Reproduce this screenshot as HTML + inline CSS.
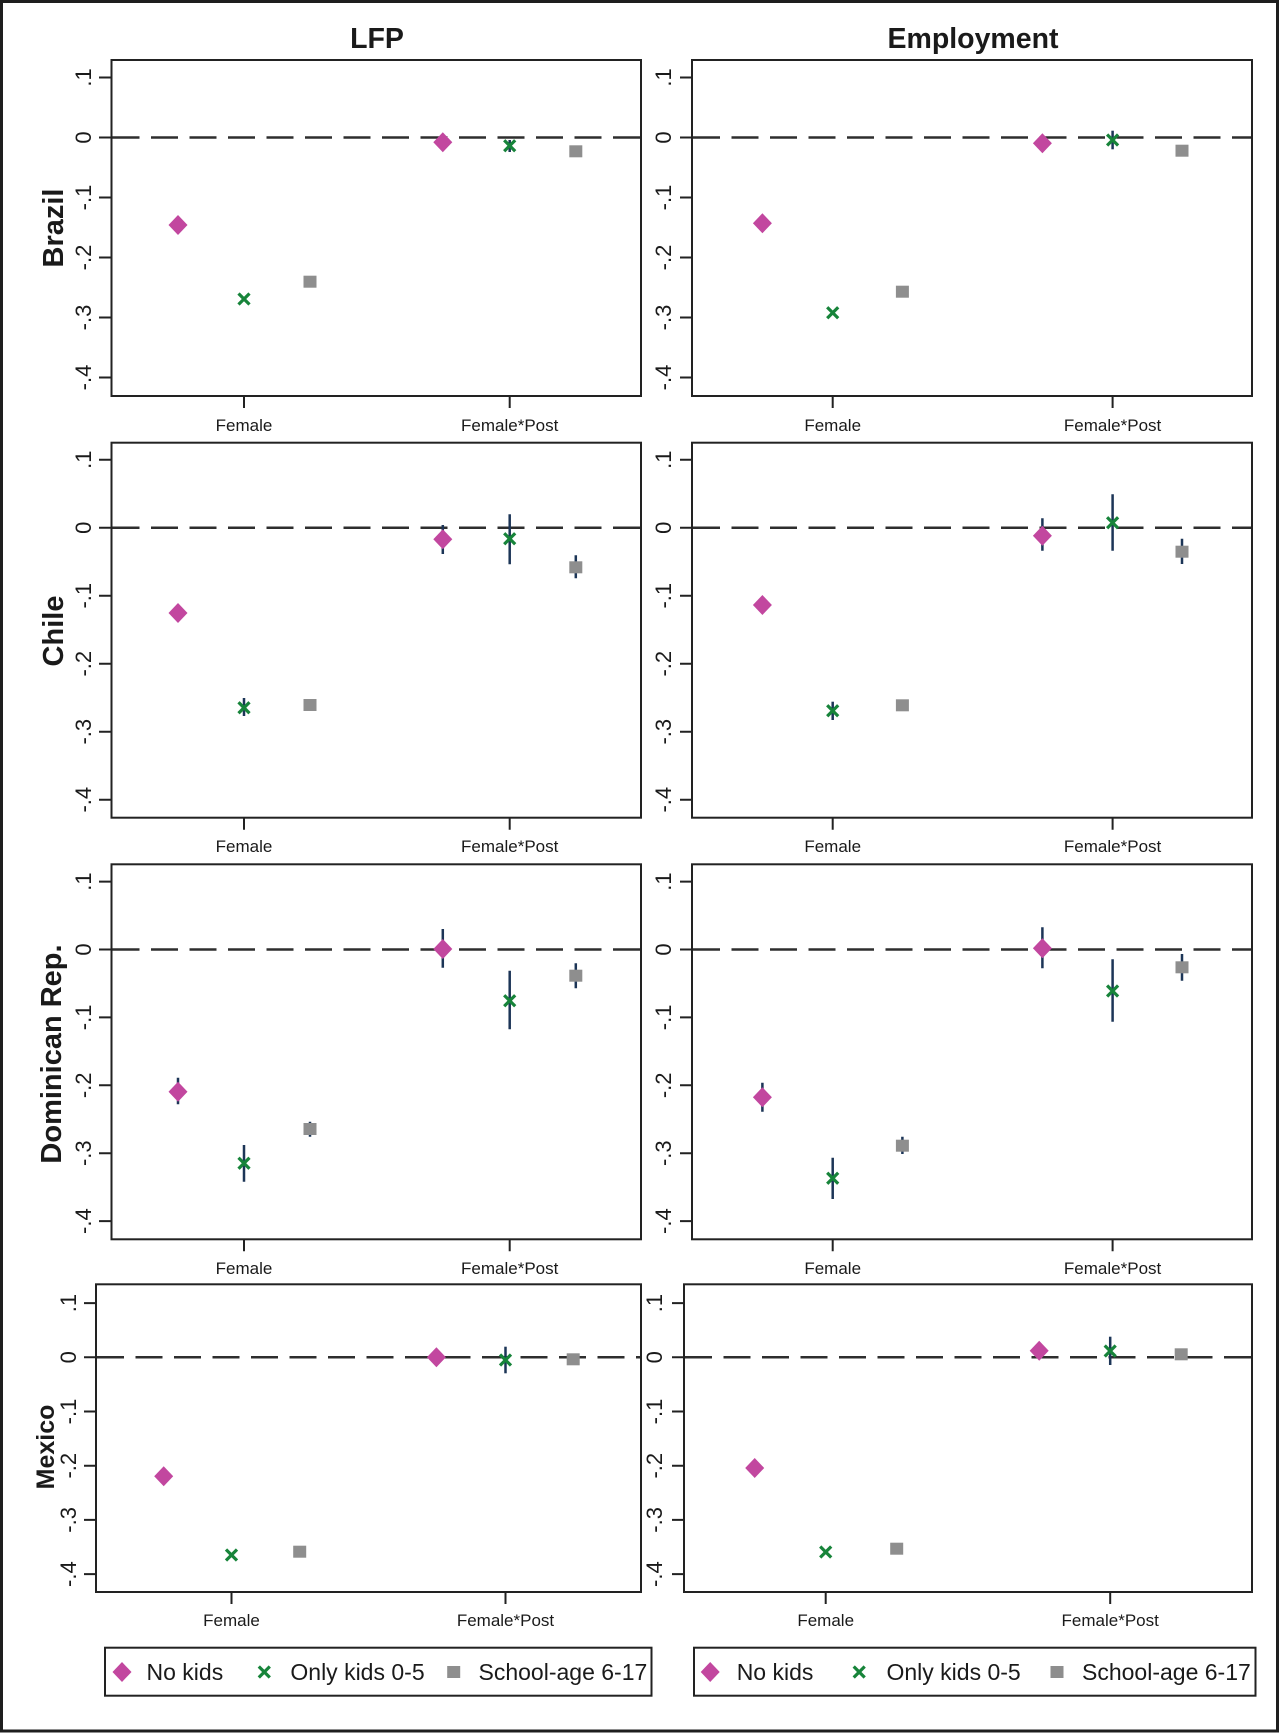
<!DOCTYPE html>
<html><head><meta charset="utf-8"><style>
html,body{margin:0;padding:0;background:#fff;}
svg{display:block;}
text{font-family:"Liberation Sans",Arial,sans-serif;fill:#1a1a1a;}
</style></head><body>
<svg width="1280" height="1733" viewBox="0 0 1280 1733" xmlns="http://www.w3.org/2000/svg">
<defs>
<path id="dia" d="M0,-10 L9.5,0 L0,10 L-9.5,0Z" fill="#c2479f"/>
<path id="xx" d="M-5.5,-5.5 L5.5,5.5 M5.5,-5.5 L-5.5,5.5" stroke="#17843a" stroke-width="3.2" fill="none"/>
<rect id="sq" x="-6.5" y="-6" width="13" height="12" fill="#8e8e8e"/>
</defs>
<rect x="0" y="0" width="1280" height="1733" fill="#fff"/>
<rect x="1.5" y="1.5" width="1276" height="1729.5" fill="none" stroke="#1e1e1e" stroke-width="3"/>

<!-- Titles -->
<text x="377" y="48" font-size="28.5" font-weight="bold" text-anchor="middle">LFP</text>
<text x="973" y="48" font-size="28.5" font-weight="bold" text-anchor="middle">Employment</text>

<!-- Country labels -->
<text transform="translate(63,228) rotate(-90)" font-size="29" font-weight="bold" text-anchor="middle">Brazil</text>
<text transform="translate(63,631) rotate(-90)" font-size="29" font-weight="bold" text-anchor="middle">Chile</text>
<text transform="translate(61,1054) rotate(-90)" font-size="29" font-weight="bold" text-anchor="middle">Dominican Rep.</text>
<text transform="translate(54,1447) rotate(-90)" font-size="25" font-weight="bold" text-anchor="middle">Mexico</text>

<g stroke="#222" stroke-width="2" fill="none">
<rect x="111.5" y="60" width="529.5" height="336"/>
<rect x="692" y="60" width="560" height="336"/>
<rect x="111.5" y="442.7" width="529.5" height="375"/>
<rect x="692" y="442.7" width="560" height="375"/>
<rect x="111.5" y="864.3" width="529.5" height="375"/>
<rect x="692" y="864.3" width="560" height="375"/>
<rect x="96" y="1284.3" width="545" height="307.7"/>
<rect x="684" y="1284.3" width="568" height="307.7"/>
<path d="M99,77.5H111.5M99,137.5H111.5M99,197.5H111.5M99,257.5H111.5M99,317.5H111.5M99,377.5H111.5"/>
<path d="M680,77.5H692M680,137.5H692M680,197.5H692M680,257.5H692M680,317.5H692M680,377.5H692"/>
<path d="M99,459.7H111.5M99,527.7H111.5M99,595.7H111.5M99,663.7H111.5M99,731.7H111.5M99,799.7H111.5"/>
<path d="M680,459.7H692M680,527.7H692M680,595.7H692M680,663.7H692M680,731.7H692M680,799.7H692"/>
<path d="M99,881.6H111.5M99,949.5H111.5M99,1017.4H111.5M99,1085.3H111.5M99,1153.2H111.5M99,1221.1H111.5"/>
<path d="M680,881.6H692M680,949.5H692M680,1017.4H692M680,1085.3H692M680,1153.2H692M680,1221.1H692"/>
<path d="M84,1303.1H96M84,1357.3H96M84,1411.5H96M84,1465.7H96M84,1519.9H96M84,1574.1H96"/>
<path d="M672,1303.1H684M672,1357.3H684M672,1411.5H684M672,1465.7H684M672,1519.9H684M672,1574.1H684"/>
<path d="M244,396V408M509.7,396V408M832.7,396V408M1112.6,396V408"/>
<path d="M244,817.7V829.7M509.7,817.7V829.7M832.7,817.7V829.7M1112.6,817.7V829.7"/>
<path d="M244,1239.3V1251.3M509.7,1239.3V1251.3M832.7,1239.3V1251.3M1112.6,1239.3V1251.3"/>
<path d="M231.5,1592V1604M505.5,1592V1604M825.7,1592V1604M1110.2,1592V1604"/>
<rect x="105" y="1647.7" width="546.5" height="48"/>
<rect x="694" y="1647.7" width="561.5" height="48"/>
</g>

<g stroke="#2e2e2e" stroke-width="2.5" stroke-dasharray="27 11.5" fill="none">
<path d="M112.5,137.5H640"/>
<path d="M693,137.5H1251"/>
<path d="M112.5,527.7H640"/>
<path d="M693,527.7H1251"/>
<path d="M112.5,949.5H640"/>
<path d="M693,949.5H1251"/>
<path d="M97,1357.3H640"/>
<path d="M685,1357.3H1251"/>
</g>

<g font-size="22" text-anchor="middle">
<text transform="translate(91,77.5) rotate(-90)">.1</text>
<text transform="translate(91,137.5) rotate(-90)">0</text>
<text transform="translate(91,197.5) rotate(-90)">-.1</text>
<text transform="translate(91,257.5) rotate(-90)">-.2</text>
<text transform="translate(91,317.5) rotate(-90)">-.3</text>
<text transform="translate(91,377.5) rotate(-90)">-.4</text>
<text transform="translate(671,77.5) rotate(-90)">.1</text>
<text transform="translate(671,137.5) rotate(-90)">0</text>
<text transform="translate(671,197.5) rotate(-90)">-.1</text>
<text transform="translate(671,257.5) rotate(-90)">-.2</text>
<text transform="translate(671,317.5) rotate(-90)">-.3</text>
<text transform="translate(671,377.5) rotate(-90)">-.4</text>

<text transform="translate(91,459.7) rotate(-90)">.1</text>
<text transform="translate(91,527.7) rotate(-90)">0</text>
<text transform="translate(91,595.7) rotate(-90)">-.1</text>
<text transform="translate(91,663.7) rotate(-90)">-.2</text>
<text transform="translate(91,731.7) rotate(-90)">-.3</text>
<text transform="translate(91,799.7) rotate(-90)">-.4</text>
<text transform="translate(671,459.7) rotate(-90)">.1</text>
<text transform="translate(671,527.7) rotate(-90)">0</text>
<text transform="translate(671,595.7) rotate(-90)">-.1</text>
<text transform="translate(671,663.7) rotate(-90)">-.2</text>
<text transform="translate(671,731.7) rotate(-90)">-.3</text>
<text transform="translate(671,799.7) rotate(-90)">-.4</text>

<text transform="translate(91,881.6) rotate(-90)">.1</text>
<text transform="translate(91,949.5) rotate(-90)">0</text>
<text transform="translate(91,1017.4) rotate(-90)">-.1</text>
<text transform="translate(91,1085.3) rotate(-90)">-.2</text>
<text transform="translate(91,1153.2) rotate(-90)">-.3</text>
<text transform="translate(91,1221.1) rotate(-90)">-.4</text>
<text transform="translate(671,881.6) rotate(-90)">.1</text>
<text transform="translate(671,949.5) rotate(-90)">0</text>
<text transform="translate(671,1017.4) rotate(-90)">-.1</text>
<text transform="translate(671,1085.3) rotate(-90)">-.2</text>
<text transform="translate(671,1153.2) rotate(-90)">-.3</text>
<text transform="translate(671,1221.1) rotate(-90)">-.4</text>

<text transform="translate(76,1303.1) rotate(-90)">.1</text>
<text transform="translate(76,1357.3) rotate(-90)">0</text>
<text transform="translate(76,1411.5) rotate(-90)">-.1</text>
<text transform="translate(76,1465.7) rotate(-90)">-.2</text>
<text transform="translate(76,1519.9) rotate(-90)">-.3</text>
<text transform="translate(76,1574.1) rotate(-90)">-.4</text>
<text transform="translate(662,1303.1) rotate(-90)">.1</text>
<text transform="translate(662,1357.3) rotate(-90)">0</text>
<text transform="translate(662,1411.5) rotate(-90)">-.1</text>
<text transform="translate(662,1465.7) rotate(-90)">-.2</text>
<text transform="translate(662,1519.9) rotate(-90)">-.3</text>
<text transform="translate(662,1574.1) rotate(-90)">-.4</text>
</g>

<g font-size="17" text-anchor="middle" style="fill:#2a2a2a">
<text x="244" y="431">Female</text>
<text x="509.7" y="431">Female*Post</text>
<text x="832.7" y="431">Female</text>
<text x="1112.6" y="431">Female*Post</text>
<text x="244" y="852">Female</text>
<text x="509.7" y="852">Female*Post</text>
<text x="832.7" y="852">Female</text>
<text x="1112.6" y="852">Female*Post</text>
<text x="244" y="1274">Female</text>
<text x="509.7" y="1274">Female*Post</text>
<text x="832.7" y="1274">Female</text>
<text x="1112.6" y="1274">Female*Post</text>
<text x="231.5" y="1626">Female</text>
<text x="505.5" y="1626">Female*Post</text>
<text x="825.7" y="1626">Female</text>
<text x="1110.2" y="1626">Female*Post</text>
</g>

<g stroke="#1c3557" stroke-width="2.5" fill="none">
<path d="M509.7,140V152"/>
<path d="M1112.6,130.7V149.3"/>
<path d="M244,698V716"/>
<path d="M442.8,525V554M509.7,514.3V564.3M575.8,555.3V578.3"/>
<path d="M832.7,701.7V720"/>
<path d="M1042.4,518.3V550.7M1112.6,494.3V550.7M1182,538.7V564"/>
<path d="M178,1077.7V1104.3M244,1145V1181.7M310,1121.7V1136.7"/>
<path d="M442.8,929V967.7M509.7,970.7V1029.3M575.8,963.3V988.3"/>
<path d="M762.4,1082.7V1111.7M832.7,1157.7V1199M902.4,1136.7V1154"/>
<path d="M1042.4,927.3V968.3M1112.6,959.3V1021.7M1182,954V980.7"/>
<path d="M505.5,1346.7V1373.3"/>
<path d="M1110.2,1336.7V1365"/>
</g>

<use href="#dia" x="178" y="225"/><use href="#xx" x="244" y="299"/><use href="#sq" x="310" y="281.7"/>
<use href="#dia" x="442.8" y="142.3"/><use href="#xx" x="509.7" y="145.7"/><use href="#sq" x="575.8" y="151.3"/>
<use href="#dia" x="762.4" y="223.3"/><use href="#xx" x="832.7" y="312.7"/><use href="#sq" x="902.4" y="291.7"/>
<use href="#dia" x="1042.4" y="143.3"/><use href="#xx" x="1112.6" y="140"/><use href="#sq" x="1182" y="150.7"/>
<use href="#dia" x="178" y="613"/><use href="#xx" x="244" y="707.7"/><use href="#sq" x="310" y="705"/>
<use href="#dia" x="442.8" y="539.3"/><use href="#xx" x="509.7" y="538.7"/><use href="#sq" x="575.8" y="567.3"/>
<use href="#dia" x="762.4" y="605"/><use href="#xx" x="832.7" y="710.7"/><use href="#sq" x="902.4" y="705.3"/>
<use href="#dia" x="1042.4" y="535.7"/><use href="#xx" x="1112.6" y="522.7"/><use href="#sq" x="1182" y="551.7"/>
<use href="#dia" x="178" y="1091.7"/><use href="#xx" x="244" y="1163.3"/><use href="#sq" x="310" y="1129"/>
<use href="#dia" x="442.8" y="949"/><use href="#xx" x="509.7" y="1000.7"/><use href="#sq" x="575.8" y="975.7"/>
<use href="#dia" x="762.4" y="1097.3"/><use href="#xx" x="832.7" y="1178.3"/><use href="#sq" x="902.4" y="1145.7"/>
<use href="#dia" x="1042.4" y="948.3"/><use href="#xx" x="1112.6" y="991"/><use href="#sq" x="1182" y="967.3"/>
<use href="#dia" x="163.7" y="1476.3"/><use href="#xx" x="231.5" y="1555"/><use href="#sq" x="299.7" y="1551.7"/>
<use href="#dia" x="436.4" y="1357.3"/><use href="#xx" x="505.5" y="1360"/><use href="#sq" x="573.2" y="1359.3"/>
<use href="#dia" x="754.7" y="1468"/><use href="#xx" x="825.7" y="1552"/><use href="#sq" x="896.7" y="1548.7"/>
<use href="#dia" x="1039.2" y="1350.7"/><use href="#xx" x="1110.2" y="1351"/><use href="#sq" x="1181.2" y="1354.3"/>

<use href="#dia" x="122" y="1672"/><use href="#xx" x="264.3" y="1672"/><use href="#sq" x="453.7" y="1672"/>
<use href="#dia" x="710.2" y="1672"/><use href="#xx" x="859.2" y="1672"/><use href="#sq" x="1057" y="1672"/>
<g font-size="23">
<text x="146.5" y="1680">No kids</text>
<text x="290.4" y="1680">Only kids 0-5</text>
<text x="478.5" y="1680">School-age 6-17</text>
<text x="736.7" y="1680">No kids</text>
<text x="886.5" y="1680">Only kids 0-5</text>
<text x="1082" y="1680">School-age 6-17</text>
</g>
</svg>
</body></html>
